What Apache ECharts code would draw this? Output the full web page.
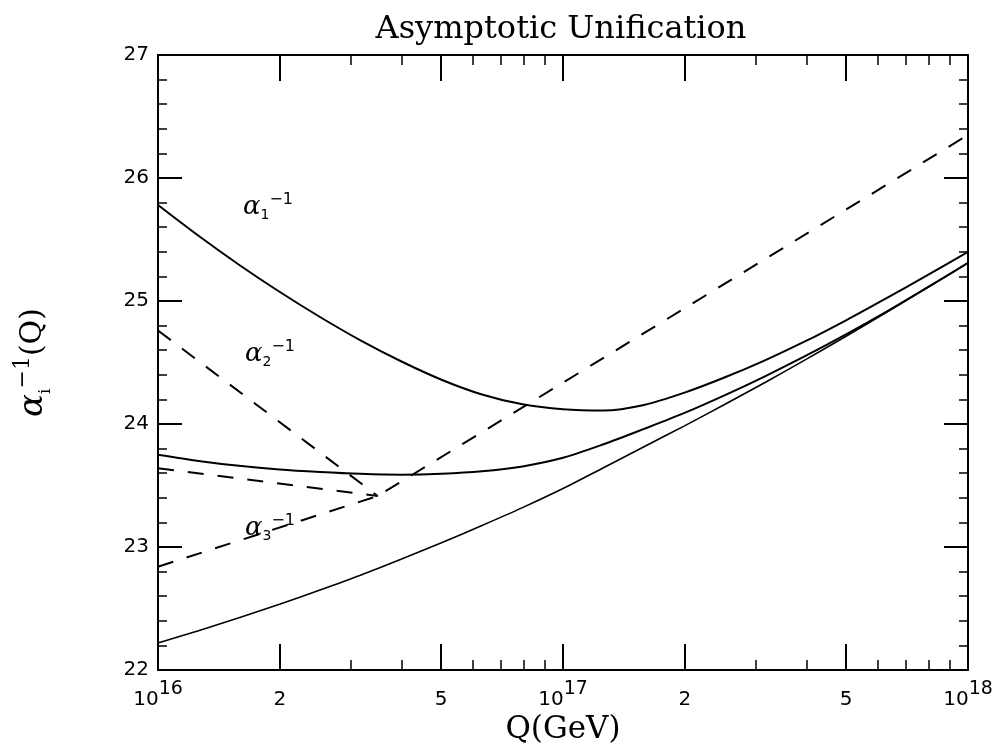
<!DOCTYPE html>
<html>
<head>
<meta charset="utf-8">
<script src="https://cdn.jsdelivr.net/npm/echarts@6/dist/echarts.min.js"></script>
<style>
  html, body { margin: 0; padding: 0; background: #fff; }
  #chart { width: 992px; height: 744px; }
</style>
</head>
<body>
<div id="chart"></div>
<script>
// x is log10(Q / GeV)
const logQ = [16.0, 16.1, 16.2, 16.3, 16.4, 16.5, 16.6, 16.7, 16.8, 16.9, 17.0,
              17.1, 17.2, 17.3, 17.4, 17.5, 17.6, 17.7, 17.8, 17.9, 18.0]

// solid curves
const alpha1 = [25.78, 25.53, 25.295, 25.075, 24.87, 24.68, 24.51, 24.36, 24.24, 24.16, 24.12,
                24.11, 24.155, 24.255, 24.38, 24.52, 24.675, 24.845, 25.025, 25.21, 25.40]
const alpha2 = [23.75, 23.70, 23.66, 23.63, 23.61, 23.595, 23.588, 23.595, 23.615, 23.655, 23.725,
                23.835, 23.96, 24.09, 24.235, 24.39, 24.555, 24.73, 24.915, 25.11, 25.31]
const alpha3 = [22.22, 22.32, 22.425, 22.535, 22.65, 22.77, 22.90, 23.035, 23.175, 23.32, 23.475,
                23.645, 23.815, 23.985, 24.16, 24.34, 24.525, 24.715, 24.91, 25.11, 25.31]

// dashed lines (straight in log Q)
const dashUpperX = [16.0, 16.5425]
const dashUpperY = [24.76, 23.415]
const dashMidX = [16.0, 16.5425]
const dashMidY = [23.64, 23.415]
const dashLowX = [16.0, 16.5425, 18.0]
const dashLowY = [22.84, 23.415, 26.35]

// axis ticks
const xMajorTicks = [16, 16.30103, 16.69897, 17, 17.30103, 17.69897, 18]
const xTickLabels = ['{b|10}{s|16}', '{b|2}', '{b|5}', '{b|10}{s|17}', '{b|2}', '{b|5}', '{b|10}{s|18}']
const xMinorTicks = [16.47712, 16.60206, 16.77815, 16.84510, 16.90309, 16.95424,
                     17.47712, 17.60206, 17.77815, 17.84510, 17.90309, 17.95424]

const pairs = (xs, ys) => xs.map((x, i) => [x, ys[i]])

const chart = echarts.init(document.getElementById('chart'))

const black = '#000'
const tickFont = 'DejaVu Sans'
const labelRich = {
  b: { fontFamily: tickFont, fontSize: 20, color: black, lineHeight: 30, verticalAlign: 'bottom' },
  s: { fontFamily: tickFont, fontSize: 19, color: black, lineHeight: 16, verticalAlign: 'top' }
}

const xAxisBase = {
  type: 'value', min: 16, max: 18,
  splitLine: { show: false }
}

const curveLabel = (idx, left, top) => ({
  type: 'text', left, top,
  style: {
    text: '{a|α}{sub|' + idx + '}{sup|−1}',
    rich: {
      a: { fontFamily: 'DejaVu Serif', fontStyle: 'italic', fontSize: 26, lineHeight: 30, verticalAlign: 'middle', fill: black },
      sub: { fontFamily: tickFont, fontSize: 14, lineHeight: 12, verticalAlign: 'bottom', fill: black },
      sup: { fontFamily: tickFont, fontSize: 16, lineHeight: 14, verticalAlign: 'top', fill: black }
    }
  }
})

const option = {
  backgroundColor: '#fff',
  animation: false,
  title: {
    text: 'Asymptotic Unification',
    left: 556, top: 9, textAlign: 'center',
    textStyle: { fontFamily: 'DejaVu Serif', fontSize: 32, fontWeight: 'normal', color: black }
  },
  grid: { left: 158, right: 24, top: 55, bottom: 74, outerBoundsMode: 'none', containLabel: false },
  xAxis: [
    Object.assign({}, xAxisBase, {
      position: 'bottom',
      name: 'Q(GeV)', nameLocation: 'middle', nameGap: 32,
      nameTextStyle: { fontFamily: 'DejaVu Serif', fontSize: 31, color: black },
      axisLine: { lineStyle: { color: black, width: 2 } },
      axisTick: { inside: true, length: 26, customValues: xMajorTicks, lineStyle: { color: black, width: 2 } },
      axisLabel: {
        customValues: xMajorTicks, margin: 10, color: black,
        formatter: (v) => xTickLabels[xMajorTicks.findIndex(t => Math.abs(t - v) < 1e-4)],
        rich: labelRich
      }
    }),
    Object.assign({}, xAxisBase, {
      position: 'bottom',
      axisLine: { show: false },
      axisTick: { inside: true, length: 10, customValues: xMinorTicks, lineStyle: { color: black, width: 1.5 } },
      axisLabel: { show: false }
    }),
    Object.assign({}, xAxisBase, {
      position: 'top',
      axisLine: { lineStyle: { color: black, width: 2 } },
      axisTick: { inside: true, length: 26, customValues: xMajorTicks, lineStyle: { color: black, width: 2 } },
      axisLabel: { show: false }
    }),
    Object.assign({}, xAxisBase, {
      position: 'top',
      axisLine: { show: false },
      axisTick: { inside: true, length: 10, customValues: xMinorTicks, lineStyle: { color: black, width: 1.5 } },
      axisLabel: { show: false }
    })
  ],
  yAxis: [
    {
      type: 'value', min: 22, max: 27, interval: 1, position: 'left',
      name: '{a|α}{sub|i}{sup|−1}{p|(Q)}', nameLocation: 'middle', nameGap: 104, nameRotate: 90,
      nameTextStyle: {
        rich: {
          a: { fontFamily: 'DejaVu Serif', fontStyle: 'italic', fontSize: 34, lineHeight: 42, verticalAlign: 'middle', color: black },
          sub: { fontFamily: 'DejaVu Serif', fontSize: 17, lineHeight: 16, verticalAlign: 'bottom', color: black },
          sup: { fontFamily: 'DejaVu Serif', fontSize: 22, lineHeight: 18, verticalAlign: 'top', color: black },
          p: { fontFamily: 'DejaVu Serif', fontSize: 30, lineHeight: 42, verticalAlign: 'middle', color: black }
        }
      },
      axisLine: { show: true, lineStyle: { color: black, width: 2 } },
      axisTick: { show: true, inside: true, length: 24, lineStyle: { color: black, width: 2 } },
      minorTick: { show: true, splitNumber: 5, length: 9, lineStyle: { color: black, width: 1.5 } },
      axisLabel: { fontFamily: tickFont, fontSize: 20, color: black, margin: 9 },
      splitLine: { show: false }
    },
    {
      type: 'value', min: 22, max: 27, interval: 1, position: 'right',
      axisLine: { show: true, lineStyle: { color: black, width: 2 } },
      axisTick: { show: true, inside: true, length: 24, lineStyle: { color: black, width: 2 } },
      minorTick: { show: true, splitNumber: 5, length: 9, lineStyle: { color: black, width: 1.5 } },
      axisLabel: { show: false },
      splitLine: { show: false }
    }
  ],
  series: [
    { name: 'alpha1', type: 'line', data: pairs(logQ, alpha1), smooth: 0.3, showSymbol: false,
      lineStyle: { color: black, width: 2 } },
    { name: 'alpha2', type: 'line', data: pairs(logQ, alpha2), smooth: 0.3, showSymbol: false,
      lineStyle: { color: black, width: 2 } },
    { name: 'alpha3', type: 'line', data: pairs(logQ, alpha3), smooth: 0.3, showSymbol: false,
      lineStyle: { color: black, width: 1.6 } },
    { name: 'dashUpper', type: 'line', data: pairs(dashUpperX, dashUpperY), showSymbol: false,
      lineStyle: { color: black, width: 2, type: [16, 14] } },
    { name: 'dashMid', type: 'line', data: pairs(dashMidX, dashMidY), showSymbol: false,
      lineStyle: { color: black, width: 2, type: [16, 14] } },
    { name: 'dashLow', type: 'line', data: pairs(dashLowX, dashLowY), showSymbol: false,
      lineStyle: { color: black, width: 2, type: [16, 14] } }
  ],
  graphic: [
    curveLabel(1, 243, 192),
    curveLabel(2, 245, 339),
    curveLabel(3, 245, 513)
  ]
}

chart.setOption(option)
window.addEventListener('resize', () => chart.resize())
</script>
</body>
</html>
